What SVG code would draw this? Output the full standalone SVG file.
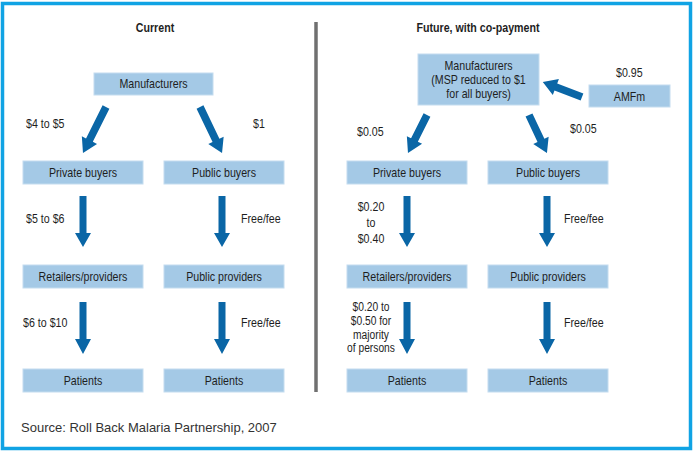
<svg xmlns="http://www.w3.org/2000/svg" width="695" height="454" viewBox="0 0 695 454">
<style>
.box{fill:#a4c9e6;stroke:#c4dcef;stroke-width:1}
.t{font-family:"Liberation Sans",Arial,sans-serif;font-size:13px;fill:#1e1e1e}
.s{font-size:12.5px}
.c{text-anchor:middle}
.b{font-weight:bold}
.arr{fill:#0a66a6}
.src{font-family:"Liberation Sans",Arial,sans-serif;font-size:13px;fill:#333}
</style>
<rect width="695" height="454" fill="#fff"/>
<rect x="2.5" y="3.5" width="688" height="445" fill="none" stroke="#10a3e4" stroke-width="3.5"/>
<line x1="316" y1="22" x2="316" y2="392" stroke="#707070" stroke-width="3.5"/>
<text class="t b c" transform="translate(155,32) scale(0.82,1)">Current</text>
<text class="t b c" transform="translate(478,32) scale(0.82,1)">Future, with co-payment</text>

<g id="cur-manufacturers"><rect class="box" x="94" y="73" width="119" height="22"/><text class="t c" transform="translate(153.5,88) scale(0.82,1)">Manufacturers</text></g>
<g id="cur-private-buyers"><rect class="box" x="23" y="161" width="120" height="23"/><text class="t c" transform="translate(83,177) scale(0.82,1)">Private buyers</text></g>
<g id="cur-public-buyers"><rect class="box" x="164" y="161" width="120" height="23"/><text class="t c" transform="translate(224,177) scale(0.82,1)">Public buyers</text></g>
<g id="cur-retailers"><rect class="box" x="23" y="265" width="120" height="23"/><text class="t c" transform="translate(83,281) scale(0.82,1)">Retailers/providers</text></g>
<g id="cur-public-providers"><rect class="box" x="164" y="265" width="120" height="23"/><text class="t c" transform="translate(224,281) scale(0.82,1)">Public providers</text></g>
<g id="cur-patients-1"><rect class="box" x="23" y="369" width="120" height="23"/><text class="t c" transform="translate(83,385) scale(0.82,1)">Patients</text></g>
<g id="cur-patients-2"><rect class="box" x="164" y="369" width="120" height="23"/><text class="t c" transform="translate(224,385) scale(0.82,1)">Patients</text></g>

<g id="fut-manufacturers"><rect class="box" x="418" y="54" width="121" height="51"/><text class="t c" transform="translate(478.5,70) scale(0.82,1)">Manufacturers</text><text class="t c" transform="translate(478.5,84) scale(0.82,1)">(MSP reduced to $1</text><text class="t c" transform="translate(478.5,98) scale(0.82,1)">for all buyers)</text></g>
<g id="fut-amfm"><rect class="box" x="589" y="85" width="81" height="22"/><text class="t c" transform="translate(629.5,101) scale(0.82,1)">AMFm</text></g>
<g id="fut-private-buyers"><rect class="box" x="347" y="161" width="120" height="23"/><text class="t c" transform="translate(407,177) scale(0.82,1)">Private buyers</text></g>
<g id="fut-public-buyers"><rect class="box" x="488" y="161" width="120" height="23"/><text class="t c" transform="translate(548,177) scale(0.82,1)">Public buyers</text></g>
<g id="fut-retailers"><rect class="box" x="347" y="265" width="120" height="23"/><text class="t c" transform="translate(407,281) scale(0.82,1)">Retailers/providers</text></g>
<g id="fut-public-providers"><rect class="box" x="488" y="265" width="120" height="23"/><text class="t c" transform="translate(548,281) scale(0.82,1)">Public providers</text></g>
<g id="fut-patients-1"><rect class="box" x="347" y="369" width="120" height="23"/><text class="t c" transform="translate(407,385) scale(0.82,1)">Patients</text></g>
<g id="fut-patients-2"><rect class="box" x="488" y="369" width="120" height="23"/><text class="t c" transform="translate(548,385) scale(0.82,1)">Patients</text></g>

<g id="connectors">
<path class="arr" transform="translate(106,107) rotate(116.6)" d="M0,-3.8 L37,-3.8 L37,-8.5 L51.4,0 L37,8.5 L37,3.8 L0,3.8Z"/>
<path class="arr" transform="translate(200,107) rotate(64.4)" d="M0,-3.8 L37,-3.8 L37,-8.5 L51,0 L37,8.5 L37,3.8 L0,3.8Z"/>
<path class="arr" d="M79.5,196 L86.5,196 L86.5,233 L91,233 L83,247 L75,233 L79.5,233Z"/>
<path class="arr" d="M218.5,196 L225.5,196 L225.5,233 L230,233 L222,247 L214,233 L218.5,233Z"/>
<path class="arr" d="M79.5,302 L86.5,302 L86.5,339 L91,339 L83,354 L75,339 L79.5,339Z"/>
<path class="arr" d="M218.5,302 L225.5,302 L225.5,339 L230,339 L222,354 L214,339 L218.5,339Z"/>

<path class="arr" transform="translate(427,115) rotate(116.6)" d="M0,-3.8 L28,-3.8 L28,-8.5 L42.5,0 L28,8.5 L28,3.8 L0,3.8Z"/>
<path class="arr" transform="translate(529,115) rotate(64.7)" d="M0,-3.8 L28,-3.8 L28,-8.5 L42,0 L28,8.5 L28,3.8 L0,3.8Z"/>
<path class="arr" transform="translate(582,97) rotate(-159)" d="M0,-3.8 L28,-3.8 L28,-8.5 L42,0 L28,8.5 L28,3.8 L0,3.8Z"/>
<path class="arr" d="M403.5,196 L410.5,196 L410.5,233 L415,233 L407,247 L399,233 L403.5,233Z"/>
<path class="arr" d="M543.5,196 L550.5,196 L550.5,233 L555,233 L547,247 L539,233 L543.5,233Z"/>
<path class="arr" d="M403.5,302 L410.5,302 L410.5,339 L415,339 L407,354 L399,339 L403.5,339Z"/>
<path class="arr" d="M543.5,302 L550.5,302 L550.5,339 L555,339 L547,354 L539,339 L543.5,339Z"/>
</g>

<text class="t" transform="translate(26,128) scale(0.82,1)">$4 to $5</text>
<text class="t" transform="translate(253,128) scale(0.82,1)">$1</text>
<text class="t" transform="translate(26,223) scale(0.82,1)">$5 to $6</text>
<text class="t" transform="translate(241,223) scale(0.82,1)">Free/fee</text>
<text class="t" transform="translate(23,327) scale(0.82,1)">$6 to $10</text>
<text class="t" transform="translate(241,327) scale(0.82,1)">Free/fee</text>

<text class="t" transform="translate(616,77) scale(0.82,1)">$0.95</text>
<text class="t" transform="translate(357,136) scale(0.82,1)">$0.05</text>
<text class="t" transform="translate(570,133) scale(0.82,1)">$0.05</text>
<text class="t c" transform="translate(371,211) scale(0.82,1)">$0.20</text>
<text class="t c" transform="translate(371,227) scale(0.82,1)">to</text>
<text class="t c" transform="translate(371,243) scale(0.82,1)">$0.40</text>
<text class="t" transform="translate(564,223) scale(0.82,1)">Free/fee</text>
<text class="t s c" transform="translate(371,311) scale(0.82,1)">$0.20 to</text>
<text class="t s c" transform="translate(371,325) scale(0.82,1)">$0.50 for</text>
<text class="t s c" transform="translate(371,338.5) scale(0.82,1)">majority</text>
<text class="t s c" transform="translate(371,352) scale(0.82,1)">of persons</text>
<text class="t" transform="translate(564,327) scale(0.82,1)">Free/fee</text>

<text class="src" x="21" y="432">Source: Roll Back Malaria Partnership, 2007</text>
</svg>
